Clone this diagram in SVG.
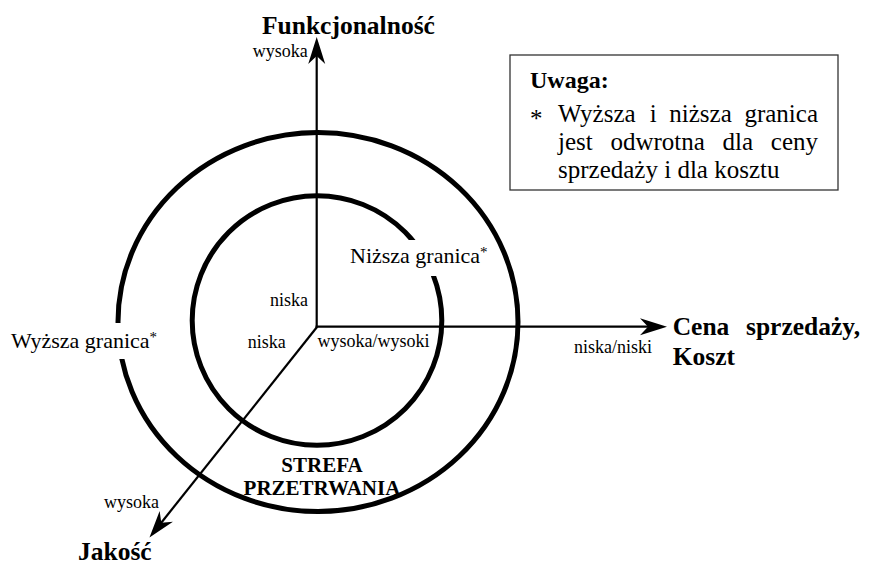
<svg xmlns="http://www.w3.org/2000/svg" width="870" height="565" viewBox="0 0 870 565">
<defs>
<style>
text{font-family:"Liberation Serif","Times New Roman",serif;fill:#000}
.b{font-weight:bold}
.axl{font-size:25.5px;font-weight:bold}
.sm{font-size:18px}
.lb{font-size:22px}
.note{font-size:25px}
.ring{fill:none;stroke:#000;stroke-width:5}
.axis{fill:none;stroke:#000;stroke-width:2.2;marker-end:url(#arr)}
.bg{fill:#fff;stroke:none}
</style>
<marker id="arr" markerUnits="userSpaceOnUse" markerWidth="28" markerHeight="18" refX="17" refY="8.5" orient="auto" overflow="visible">
<path d="M0,0 L27,8.5 L0,17 L8,8.5 Z" fill="#000"/>
</marker>
</defs>
<rect width="870" height="565" fill="#fff"/>

<g id="outer-ring"><ellipse class="ring" cx="318" cy="322" rx="200" ry="189.5"/></g>
<g id="inner-ring"><circle class="ring" cx="317" cy="320.5" r="124.8"/></g>

<g id="connectors">
<line class="axis" x1="316.7" y1="327.8" x2="316.7" y2="47"/>
<line class="axis" x1="315.6" y1="326.7" x2="657" y2="326.7"/>
<line class="axis" x1="317" y1="327" x2="155.7" y2="529.7"/>
</g>

<g id="axis-functionality">
<text class="axl" x="262" y="34">Funkcjonalność</text>
<text class="sm" x="252.7" y="56.5">wysoka</text>
<text class="sm" x="308" y="306" text-anchor="end">niska</text>
</g>

<g id="axis-price">
<text class="axl" y="335"><tspan x="672.7">Cena</tspan><tspan x="746">sprzedaży,</tspan></text>
<text class="axl" x="672.7" y="365">Koszt</text>
<text class="sm" x="574" y="352.7">niska/niski</text>
<text class="sm" x="317.5" y="347">wysoka/wysoki</text>
</g>

<g id="axis-quality">
<text class="axl" x="78" y="560">Jakość</text>
<text class="sm" x="104" y="508">wysoka</text>
<text class="sm" x="247.7" y="348">niska</text>
</g>

<g id="zone">
<text class="b" font-size="21" x="322" y="472" text-anchor="middle">STREFA</text>
<text class="b" font-size="21" x="322" y="495" text-anchor="middle">PRZETRWANIA</text>
</g>

<g id="upper-limit">
<rect class="bg" x="6" y="323" width="160" height="36"/>
<text class="lb" x="11" y="348.3">Wyższa granica<tspan font-size="15" dy="-6">*</tspan></text>
</g>

<g id="lower-limit">
<rect class="bg" x="345" y="240" width="150" height="36"/>
<text class="lb" x="350" y="263">Niższa granica<tspan font-size="15" dy="-6">*</tspan></text>
</g>

<g id="note">
<rect x="510" y="55" width="328" height="135" fill="#fff" stroke="#333" stroke-width="1.3"/>
<text class="b" font-size="24" x="530" y="87.7">Uwaga:</text>
<text class="note" font-size="22" x="530" y="127">*</text>
<text class="note" y="121.7"><tspan x="558">Wyższa</tspan><tspan x="649.7">i</tspan><tspan x="669.3">niższa</tspan><tspan x="818" text-anchor="end">granica</tspan></text>
<text class="note" y="150"><tspan x="558">jest</tspan><tspan x="610.4">odwrotna</tspan><tspan x="722.5">dla</tspan><tspan x="818" text-anchor="end">ceny</tspan></text>
<text class="note" x="558" y="177.7">sprzedaży i dla kosztu</text>
</g>
</svg>
